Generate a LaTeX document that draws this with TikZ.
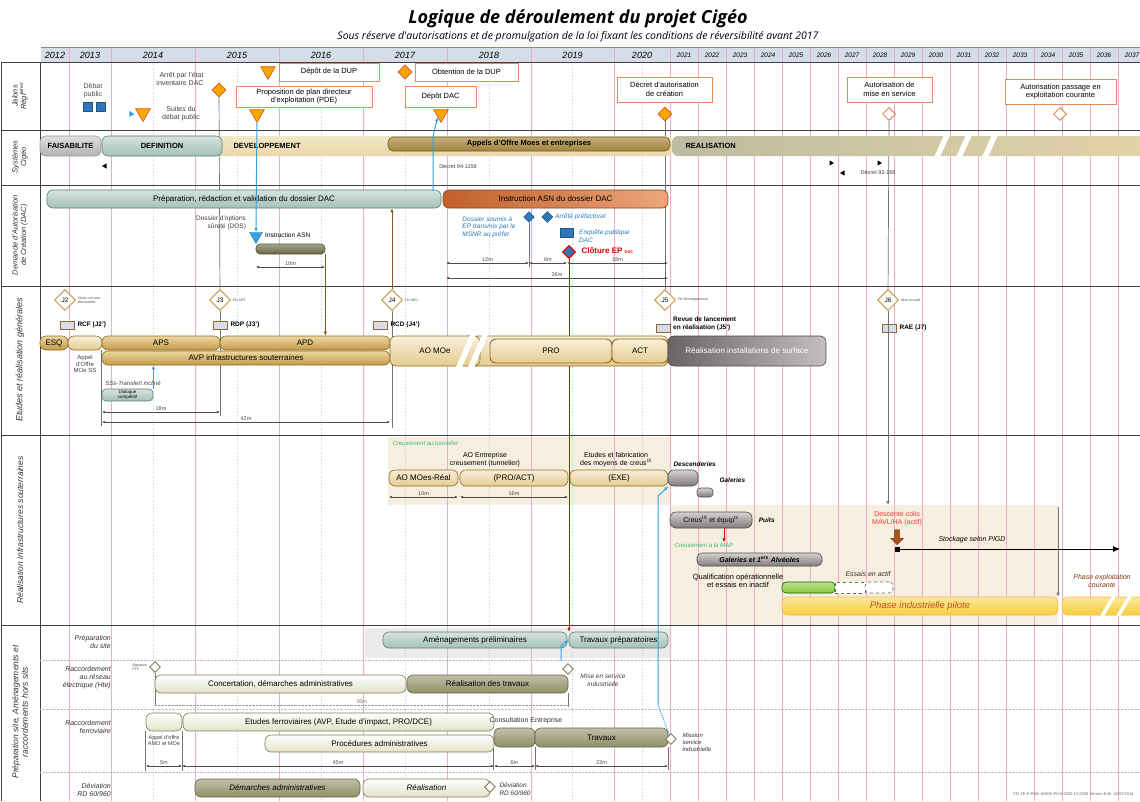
\documentclass[tikz,border=0pt]{standalone}
\usepackage{fontspec}
\setmainfont{Liberation Sans}
\newfontfamily\titlefont{Open Sans}
\usetikzlibrary{arrows.meta,shapes.geometric,shapes.arrows,positioning}
\pgfdeclarelayer{back}
\pgfdeclarelayer{lines}
\pgfsetlayers{back,lines,main}

\definecolor{gridpink}{HTML}{F2A9CB}
\definecolor{hdrblue}{HTML}{D5DEE8}
\definecolor{jorange}{HTML}{F7A800}
\definecolor{jred}{HTML}{E0501C}
\definecolor{jboxln}{HTML}{E28A60}
\definecolor{faisa}{HTML}{B2B2B2}
\definecolor{tealbar}{HTML}{A3C1B8}
\definecolor{tealdk}{HTML}{5E7F76}
\definecolor{devtan}{HTML}{EAD7A6}
\definecolor{appbrown}{HTML}{A2843A}
\definecolor{realkh}{HTML}{BDBBA0}
\definecolor{realtan}{HTML}{E2D3A8}
\definecolor{goldbar}{HTML}{C49A48}
\definecolor{goldlt}{HTML}{EDD7A2}
\definecolor{golddk}{HTML}{8C6A22}
\definecolor{asndk}{HTML}{C1602A}
\definecolor{asnlt}{HTML}{ECA57A}
\definecolor{olivedk}{HTML}{66683F}
\definecolor{epblue}{HTML}{2E78B8}
\definecolor{arrowblue}{HTML}{35A2E0}
\definecolor{greydk}{HTML}{6A6464}
\definecolor{greylt}{HTML}{C4BEBE}
\definecolor{tunbg}{HTML}{F6EFDF}
\definecolor{sitebg}{HTML}{EBEBEB}
\definecolor{khlt}{HTML}{E2E2C8}
\definecolor{khdk}{HTML}{7E7E58}
\definecolor{olbar}{HTML}{8E8E66}
\definecolor{pilote}{HTML}{F7CF3A}
\definecolor{pilotetx}{HTML}{C0501A}
\definecolor{msgold}{HTML}{C9A860}
\definecolor{greenbar}{HTML}{8ACB3E}
\definecolor{greentx}{HTML}{3CB878}
\definecolor{colisbrown}{HTML}{A8521C}

\newcommand\fsz[2]{\fontsize{#1}{#2}\selectfont}
% barre : style, nom, x1, x2, y1, y2, texte
\newcommand\barre[7]{\node[#1,minimum width={(#4-#3)*1pt},minimum height={(#6-#5)*1pt}] (#2) at ({(#3+#4)/2},{(#5+#6)/2}) {#7};}
% cote : x1, x2, y, texte, nom
\newcommand\cote[5]{\draw[dimarr] (#1,#3) -- (#2,#3) node[dimlbl] (#5) {#4};}

\begin{document}
\begin{tikzpicture}[x=1pt,y=-1pt,font=\fsz{7.5}{8.5},>={Latex[length=4pt,width=3.5pt]}]
        \tikzstyle{yearlbl}=[font=\itshape\fsz{9}{10},inner sep=0]
        \tikzstyle{yearsm}=[font=\itshape\fsz{6.5}{7},inner sep=0]
        \tikzstyle{gridline}=[gridpink,line width=0.7pt]
        \tikzstyle{rowline}=[black!75,line width=0.8pt]
        \tikzstyle{lbl}=[rotate=90,align=center,font=\itshape\fsz{7.5}{8.5},text=black!80]
        \tikzstyle{sublbl}=[anchor=east,align=right,font=\itshape\fsz{7}{8},text=black!80,inner sep=1pt]
        \tikzstyle{txt}=[align=center,inner sep=1pt,font=\fsz{7}{8}]
        \tikzstyle{tinytxt}=[align=left,font=\fsz{3.5}{4},text=black!70,inner sep=0.5pt]
        \tikzstyle{jbox}=[draw=jboxln,line width=1pt,fill=white,align=center,inner sep=1pt,font=\fsz{7.5}{8.5}]
        \tikzstyle{jdiam}=[diamond,draw=jred,fill=jorange,line width=0.6pt,inner sep=0,minimum size=14]
        \tikzstyle{jdiamo}=[diamond,draw=jboxln,fill=white,line width=1pt,inner sep=0,minimum size=13]
        \tikzstyle{jtri}=[regular polygon,regular polygon sides=3,shape border rotate=180,draw=jred,fill=jorange,line width=0.6pt,inner sep=0,minimum size=17]
        \tikzstyle{btri}=[regular polygon,regular polygon sides=3,shape border rotate=180,fill=arrowblue,draw=arrowblue!80!black,inner sep=0,minimum size=15]
        \tikzstyle{tipl}=[regular polygon,regular polygon sides=3,shape border rotate=90,fill=black,inner sep=0,minimum size=6]
        \tikzstyle{tipr}=[regular polygon,regular polygon sides=3,shape border rotate=270,fill=black,inner sep=0,minimum size=6]
        \tikzstyle{bltip}=[regular polygon,regular polygon sides=3,shape border rotate=270,fill=arrowblue,inner sep=0,minimum size=7]
        \tikzstyle{bsq}=[fill=epblue,draw=epblue!70!black,minimum width=9,minimum height=9,inner sep=0]
        \tikzstyle{bdiam}=[diamond,fill=epblue,draw=epblue!70!black,inner sep=0,minimum size=11]
        \tikzstyle{gdiam}=[diamond,draw=khdk,fill=white,line width=0.9pt,inner sep=0,minimum size=11]
        \tikzstyle{eptxt}=[align=left,font=\itshape\fsz{6.5}{7.5},text=epblue,inner sep=1pt]
        \tikzstyle{ms}=[diamond,draw=msgold,fill=white,line width=1.1pt,minimum size=21,inner sep=0,font=\fsz{6.5}{7}]
        \tikzstyle{revbox}=[draw=brown!80!black,fill=hdrblue,minimum width=14,minimum height=8,inner sep=0,line width=0.7pt]
        \tikzstyle{revlbl}=[align=left,font=\bfseries\fsz{6.5}{7.5},inner sep=1pt]
        \tikzstyle{bar}=[rounded corners=6pt,inner sep=1pt,line width=0.6pt,align=center,font=\fsz{8}{9}]
        \tikzstyle{sgold}=[bar,draw=golddk,top color=goldlt,bottom color=goldbar]
        \tikzstyle{sgoldp}=[bar,draw=golddk,top color=goldlt!40,bottom color=goldlt!80!goldbar]
        \tikzstyle{steal}=[bar,draw=tealdk,top color=tealbar!45,bottom color=tealbar]
        \tikzstyle{sgrey}=[bar,draw=black!70,left color=greydk,right color=greylt]
        \tikzstyle{sgreyc}=[bar,draw=black!70,top color=greylt!70,bottom color=greydk!85]
        \tikzstyle{skhaki}=[bar,draw=khdk,top color=white,bottom color=khlt]
        \tikzstyle{solive}=[bar,draw=khdk!80!black,top color=olbar!55,bottom color=olbar]
        \tikzstyle{greyln}=[black!55,line width=0.7pt]
        \tikzstyle{brownln}=[brown!70!black,line width=0.8pt]
        \tikzstyle{blueln}=[arrowblue,line width=1pt]
        \tikzstyle{redln}=[red!85!black,line width=0.9pt]
        \tikzstyle{dimarr}=[{Latex[length=3pt,width=2.5pt]}-{Latex[length=3pt,width=2.5pt]},black!70,line width=0.5pt]
        \tikzstyle{dimlbl}=[midway,above,font=\fsz{5.5}{6},inner sep=0.8pt]

        \useasboundingbox (0,0) rectangle (1140,801);

        \begin{pgfonlayer}{back}
        \fill[white] (0,0) rectangle (1140,801);
        \fill[hdrblue] (41,47) rectangle (1140,62);
        \fill[tunbg] (388,437) rectangle (670,505);
        \fill[tunbg] (670,505) rectangle (1058,625);
        \fill[sitebg] (365,628) rectangle (670,658);
        \foreach \xx in {153,237,321,405,489,572,642}
                \draw[gray!35,dotted] (\xx,62) -- (\xx,801);
        \foreach \xx in {69,111,195,279,363,447,531,614,670,698,726,...,1118}
                \draw[gridline] (\xx,47) -- (\xx,801);
        \draw[red!65,line width=0.8pt] (41,47) -- (1140,47);
        \foreach \yy in {62,130,185,286,435,625}
                \draw[rowline] (1,\yy) -- (1140,\yy);
        \draw[rowline] (1,62) -- (1,801);
        \draw[rowline] (40,62) -- (40,801);
        \foreach \yy in {660,709,772}
                \draw[gray!50,densely dotted] (40,\yy) -- (1140,\yy);
        \end{pgfonlayer}

        % titre et annees
        \node[font=\titlefont\bfseries\itshape\fsz{18}{20}] (titre) at (578,19) {Logique de déroulement du projet Cigéo};
        \node[font=\titlefont\itshape\fsz{10.5}{12}] (soustitre) at (578,37) {Sous réserve d'autorisations et de promulgation de la loi fixant les conditions de réversibilité avant 2017};
        \foreach \a/\b/\yr in {41/69/2012,69/111/2013,111/195/2014,195/279/2015,279/363/2016,363/447/2017,447/531/2018,531/614/2019,614/670/2020}
                \node[yearlbl] (y\yr) at ({(\a+\b)/2},55) {\yr};
        \foreach \yr [count=\i from 0] in {2021,...,2037}
                \node[yearsm] (y\yr) at ({684+28*\i},55) {\yr};

        \node[lbl] (ljal) at (20,96) {Jalons\\Régl\textsuperscript{aires}};
        \node[lbl] (lsys) at (20,157) {Systèmes\\Cigéo};
        \node[lbl,font=\itshape\fsz{7.5}{8.5}] (ldac) at (20,235) {Demande d'Autorisation\\de Création (DAC)};
        \node[lbl,font=\itshape\fsz{9}{10}] (letu) at (20,360) {Etudes et réalisation générales};
        \node[lbl,font=\itshape\fsz{8.5}{9.5}] (linf) at (20,530) {Réalisation infrastructures souterraines};
        \node[lbl,font=\itshape\fsz{8.5}{9.5}] (lprep) at (20,712) {Préparation site, Aménagements et\\raccordements hors sits};

        % jalons reglementaires
        \node[txt,text=black!70] (debat) at (93,91) {Débat\\public};
        \node[bsq] (dp1) at (88,107) {};
        \node[bsq] (dp2) [right=3pt of dp1] {};
        \node[txt,align=right,text=black!75] (arret) at (180,79) {Arrêt par l'état\\inventaire DAC};
        \node[jdiam] (arretd) at (219,90) {};
        \node[bltip] (suitesb) at (131,114) {};
        \node[jtri] (suitest) at (143,113) {};
        \node[txt,text=black!75] (suites) at (181,114) {Suites du\\débat public};
        \node[jtri] (duptri) at (268,71) {};
        \barre{jbox}{dup}{279}{379}{63}{81}{Dépôt de la DUP}
        \barre{jbox}{pde}{236}{372}{86}{107}{Proposition de plan directeur\\d'exploitation (PDE)}
        \node[jtri] (pdetri) at (257,114) {};
        \node[jdiam] (obtd) at (405,72) {};
        \barre{jbox}{obt}{415}{518}{63}{81}{Obtention de la DUP}
        \barre{jbox}{depdac}{405}{476}{86}{107}{Dépôt DAC}
        \node[jtri] (dactri) at (441,114) {};
        \barre{jbox}{decret}{617}{712}{77}{102}{Décret d'autorisation\\de création}
        \node[jdiam] (decretd) at (665,114) {};
        \barre{jbox}{mes}{847}{932}{77}{102}{Autorisation de\\mise en service}
        \node[jdiamo] (mesd) at (889,114) {};
        \barre{jbox}{expl}{1005}{1116}{79}{104}{Autorisation passage en\\exploitation courante}
        \node[jdiamo] (expld) at (1060,114) {};

        % systemes Cigeo
        \barre{bar,draw=black!40,top color=faisa!40,bottom color=faisa,font=\bfseries\fsz{7.5}{8.5}}{faisab}{40}{101}{136}{156}{FAISABILITE}
        \barre{bar,draw=none,top color=devtan!60,bottom color=devtan}{devel}{216}{672}{136}{156}{}
        \barre{steal,font=\bfseries\fsz{7.5}{8.5}}{defin}{102}{222}{136}{156}{DEFINITION}
        \node[font=\bfseries\fsz{7.5}{8.5},anchor=west] (develt) at (230,146) {DEVELOPPEMENT};
        \barre{bar,rounded corners=5pt,draw=appbrown!70!black,top color=appbrown!65,bottom color=appbrown,font=\bfseries\fsz{7.5}{8.5}}{appels}{388}{670}{137}{151}{Appels d'Offre Moes et entreprises}
        \barre{bar,draw=none,left color=realkh,right color=realtan}{realis}{672}{1150}{136}{156}{}
        \node[font=\bfseries\fsz{7.5}{8.5},anchor=west] (realist) at (682,146) {REALISATION};
        \foreach \s in {934,956,982}
                \fill[white] (\s,157) -- (\s+10,135) -- (\s+16,135) -- (\s+6,157) -- cycle;
        \node[tipl] (d94a) at (105,166) {};
        \node[font=\fsz{5.5}{6},text=black!75] (d94) at (458,166) {Décret 94-1159};
        \node[tipr] (d92a) at (831,163) {};
        \node[tipr] (d92b) at (879,163) {};
        \node[tipl] (d92c) at (843,173) {};
        \node[font=\fsz{5.5}{6},text=black!75] (d92) at (878,172) {Décret 92-158};

        % demande d'autorisation de creation
        \barre{steal}{prepdac}{47}{441}{190}{208}{Préparation, rédaction et validation du dossier DAC}
        \barre{bar,draw=asndk!70!black,left color=asndk,right color=asnlt}{instasn}{443}{668}{190}{208}{Instruction ASN du dossier DAC}
        \node[txt,align=right,font=\fsz{6.5}{7.5},text=black!75] (dos) at (221,223) {Dossier d'options\\sûreté (DOS)};
        \node[btri] (asntri) at (256,236) {};
        \node[txt,font=\fsz{6.5}{7.5},anchor=west] (asnt) at (264,235) {Instruction ASN};
        \barre{bar,rounded corners=4pt,draw=olivedk!80!black,top color=olivedk!60,bottom color=olivedk}{asnbar}{256}{325}{244}{254}{}
        \cote{256}{325}{267}{10m}{dm10}
        \node[eptxt] (soumis) at (489,227) {Dossier soumis à\\EP transmis par le\\MSNR au préfet};
        \node[bdiam] (soumisd) at (529,217) {};
        \node[bdiam] (arreted) [right=7pt of soumisd] {};
        \node[eptxt] (arrete) [right=1pt of arreted] {Arrêté préfectoral};
        \node[bsq,minimum width=13] (epq) at (567,233) {};
        \node[eptxt,anchor=west] (enquete) at (578,236) {Enquête publique\\DAC};
        \node[bdiam,draw=red!85!black,line width=1.2pt,minimum size=13] (cloture) at (569,252) {};
        \node[anchor=west,text=red!85!black,font=\bfseries\fsz{8}{9}] (cloturet) at (578,251) {Clôture EP \fsz{4}{5}DAC};
        \cote{446}{529}{263}{12m}{dm12}
        \cote{529}{567}{263}{6m}{dm6a}
        \cote{567}{668}{263}{18m}{dm18a}
        \cote{446}{668}{278}{36m}{dm36a}

        % etudes et realisation generales
        \node[ms] (j2) at (65,300) {J2};
        \node[tinytxt] (j2t) [right=1pt of j2] {Choix concept\\d'ensemble};
        \node[ms] (j3) at (220,300) {J3};
        \node[tinytxt] (j3t) [right=1pt of j3] {Fin APS};
        \node[ms] (j4) at (392,300) {J4};
        \node[tinytxt] (j4t) [right=1pt of j4] {Fin APD};
        \node[ms] (j5) at (665,300) {J5};
        \node[tinytxt] (j5t) [right=1pt of j5] {Fin Développement};
        \node[ms] (j6) at (888,300) {J6};
        \node[tinytxt] (j6t) [right=1pt of j6] {Mise en actif};
        \node[revbox] (rcf) at (67,325) {};
        \node[revlbl] (rcft) [right=2pt of rcf] {RCF (J2')};
        \node[revbox] (rdp) at (220,325) {};
        \node[revlbl] (rdpt) [right=2pt of rdp] {RDP (J3')};
        \node[revbox] (rcd) at (380,325) {};
        \node[revlbl] (rcdt) [right=2pt of rcd] {RCD (J4')};
        \node[revbox] (rlr) at (663,328) {};
        \node[revlbl,anchor=south west] (rlrt) at (672,332) {Revue de lancement\\en réalisation (J5')};
        \node[revbox] (rae) at (889,328) {};
        \node[revlbl] (raet) [right=2pt of rae] {RAE (J7)};

        \barre{sgold}{esq}{40}{68}{336}{350}{ESQ}
        \barre{sgoldp}{aoss}{68}{102}{336}{350}{}
        \node[txt,font=\fsz{6}{6.5},text=black!75] (aosst) at (85,364) {Appel\\d'Offre\\MOe SS};
        \barre{sgold}{aps}{102}{220}{336}{350}{APS}
        \barre{sgold}{apd}{220}{390}{336}{350}{APD}
        \barre{sgold}{avp}{102}{390}{351}{365}{AVP infrastructures souterraines}
        \barre{sgoldp}{proact}{462}{668}{336}{366}{}
        \barre{sgoldp}{aomoe}{390}{480}{336}{366}{AO MOe}
        \foreach \s in {456,468}
                \fill[white] (\s,367) -- (\s+14,335) -- (\s+20,335) -- (\s+6,367) -- cycle;
        \barre{sgoldp,line width=0.9pt}{pro}{490}{612}{339}{363}{PRO}
        \barre{sgoldp,line width=0.9pt}{act}{612}{668}{339}{363}{ACT}
        \barre{sgrey,text=white}{rsurf}{668}{826}{336}{366}{Réalisation installations de surface}
        \node[txt,font=\itshape\fsz{6}{7},text=black!75] (sss) at (133,383) {SSs-Transfert incliné};
        \barre{steal,rounded corners=4pt,font=\fsz{4.5}{5}}{dialogue}{102}{153}{389}{401}{Dialogue\\compétitif}
        \cote{102}{220}{412}{18m}{dm18b}
        \cote{102}{390}{422}{42m}{dm42}

        % realisation infrastructures souterraines
        \node[anchor=west,font=\itshape\fsz{6}{7},text=greentx] (creutun) at (389,443) {Creusement au tunnelier};
        \node[txt] (aoent) at (485,460) {AO Entreprise\\creusement (tunnelier)};
        \node[txt] (etfab) at (616,460) {Etudes et fabrication\\des moyens de creus\textsuperscript{IX}};
        \barre{sgoldp}{aomoes}{389}{458}{470}{486}{AO MOes-Réal}
        \barre{sgoldp}{proact2}{460}{568}{470}{486}{(PRO/ACT)}
        \barre{sgoldp}{exe}{570}{668}{470}{486}{(EXE)}
        \cote{389}{458}{497}{10m}{dm10b}
        \cote{460}{568}{497}{16m}{dm16}
        \barre{sgreyc}{descend}{668}{698}{470}{486}{}
        \node[anchor=south west,font=\bfseries\itshape\fsz{6.5}{7.5}] (descendt) at (670,470) {Descenderies};
        \barre{sgreyc,rounded corners=3.5pt}{galer}{697}{713}{488}{497}{}
        \node[anchor=west,font=\bfseries\itshape\fsz{6.5}{7.5}] (galert) at (716,480) {Galeries};
        \barre{sgreyc,font=\fsz{7}{8}}{creus}{670}{752}{512}{528}{Creus\textsuperscript{IX} et équip\textsuperscript{ts}}
        \node[font=\bfseries\itshape\fsz{6.5}{7.5}] (puits) [right=3pt of creus] {Puits};
        \node[anchor=west,font=\itshape\fsz{6}{7},text=greentx] (creumap) at (671,545) {Creusement à la MAP};
        \barre{sgreyc,rounded corners=5pt,font=\bfseries\itshape\fsz{7}{8}}{galalv}{697}{822}{553}{566}{Galeries et 1\textsuperscript{ers} Alvéoles}
        \node[txt,font=\fsz{7.5}{8.5}] (qualif) at (738,581) {Qualification opérationnelle\\et essais en inactif};
        \barre{bar,rounded corners=4pt,draw=green!40!black,top color=greenbar!60,bottom color=greenbar}{inactif}{782}{835}{582}{593}{}
        \barre{bar,rounded corners=0pt,draw=black!60,dashed,fill=white}{actif1}{835}{865}{582}{593}{}
        \barre{bar,rounded corners=4pt,draw=black!60,dashed,fill=white}{actif2}{865}{893}{582}{593}{}
        \node[anchor=west,font=\itshape\fsz{7}{8},text=black!80] (essact) at (842,574) {Essais en actif};
        \barre{bar,draw=orange!60,top color=pilote!50,bottom color=pilote,font=\itshape\fsz{9.5}{10.5},text=pilotetx}{pilote}{782}{1058}{597}{615}{Phase industrielle pilote}
        \barre{bar,draw=orange!60,top color=pilote!50,bottom color=pilote}{courante}{1062}{1150}{597}{615}{}
        \foreach \s in {1100,1116}
                \fill[white] (\s,616) -- (\s+12,596) -- (\s+16,596) -- (\s+4,616) -- cycle;
        \node[txt,font=\itshape\fsz{7}{8},text=pilotetx!70!black] (court) at (1102,581) {Phase exploitation\\courante};
        \node[txt,text=red!80] (descol) at (897,519) {Descente colis\\MAVL/HA (actif)};
        \node[single arrow,shape border rotate=270,fill=colisbrown,draw=colisbrown!70!black,minimum height=15,minimum width=13,single arrow head extend=2pt,inner sep=1pt] (colis) at (897,536) {};
        \node[fill=black,minimum size=5,inner sep=0] (stock) at (897,549) {};
        \coordinate (stockend) at (1120,549);
        \node[anchor=south,font=\itshape\fsz{7}{8}] (stockt) at (972,546) {Stockage selon PIGD};
        \coordinate (expltop) at (1058,507);

        % preparation site et raccordements
        \node[sublbl] (lsite) at (112,642) {Préparation\\du site};
        \node[sublbl] (lhte) at (112,678) {Raccordement\\au réseau\\électrique (Hte)};
        \node[sublbl] (lfer) at (112,727) {Raccordement\\ferroviaire};
        \node[sublbl] (ldev) at (112,790) {Déviation\\RD 60/960};
        \barre{steal}{amenag}{383}{567}{632}{648}{Aménagements préliminaires}
        \barre{steal}{travprep}{569}{668}{632}{648}{Travaux préparatoires}
        \node[gdiam] (hte) at (155,667) {};
        \node[tinytxt] (htet) [left=1pt of hte] {Signature\\PTF};
        \barre{skhaki}{concert}{155}{406}{675}{693}{Concertation, démarches administratives}
        \barre{solive}{realtrav}{407}{568}{675}{693}{Réalisation des travaux}
        \node[gdiam] (mesind) at (568,669) {};
        \node[txt,font=\itshape\fsz{6.5}{7.5},text=black!75] (mesindt) at (603,680) {Mise en service\\industrielle};
        \barre{skhaki}{aoamo}{146}{182}{713}{731}{}
        \node[txt,font=\fsz{5.5}{6},text=black!75] (aoamot) at (164,741) {Appel d'offre\\AMO et MOe};
        \barre{skhaki}{etfer}{183}{494}{713}{731}{Etudes ferroviaires (AVP, Etude d'impact, PRO/DCE)}
        \barre{skhaki}{procadm}{265}{494}{735}{752}{Procédures administratives}
        \node[txt,font=\fsz{7}{8},text=black!80] (consult) at (526,721) {Consultation Entreprise};
        \barre{solive}{consbar}{494}{535}{728}{747}{}
        \barre{solive}{travaux}{535}{668}{728}{747}{Travaux}
        \node[gdiam] (mission) at (671,739) {};
        \node[anchor=west,align=left,font=\itshape\fsz{6}{7},text=black!80] (missiont) at (679,742) {Mission\\service\\industrielle};
        \coordinate (blc) at (658,705);
        \cote{146}{182}{766}{5m}{dm5}
        \cote{182}{494}{766}{45m}{dm45}
        \cote{494}{535}{766}{6m}{dm6b}
        \cote{535}{668}{766}{23m}{dm23}
        \barre{solive,font=\itshape\fsz{8}{9}}{demadm}{195}{360}{779}{797}{Démarches administratives}
        \barre{skhaki,font=\itshape\fsz{8}{9}}{realdev}{363}{490}{779}{797}{Réalisation}
        \node[gdiam] (devd) at (490,787) {};
        \node[anchor=west,align=left,font=\itshape\fsz{6.5}{7.5},text=black!80] (devt) at (496,789) {Déviation\\RD 60/960};
        \node[anchor=south east,font=\fsz{4}{5},text=black!60] (refdoc) at (1137,799) {CG-TE-F-PNG-AMOA-PGS-0000-12-0058 Version Edit. 16/07/2014};
        \coordinate (dacjct) at (433,191);

        \begin{pgfonlayer}{lines}
        \draw[greyln] (arretd) -- (j3);
        \draw[greyln] (j3) -- (220,416);
        \draw[brownln,->] (j4) -- (j4 |- prepdac.south);
        \draw[greyln] (j4) -- (392,428);
        \draw[greyln] (decretd) -- (j5);
        \draw[greyln] (mesd) -- (j6);
        \draw[greyln] (soumisd) -- (529,267);
        \draw[redln,->] (cloture) -- (cloture |- travprep.north);
        \draw[greyln] (aps.south west) -- ++(0,76);
        \draw[greyln] (hte) -- (hte |- 0,706);
        \draw[greyln] (realtrav.south east) -- ++(0,14);
        \draw[black!40,densely dotted] (hte |- 0,705) -- (realtrav.south east |- 0,705) node[dimlbl,text=black!50] (dm36b) {36m};
        \draw[greyln] (aoamo.south west) -- ++(0,40);
        \draw[greyln] (aoamo.south east) -- ++(0,40);
        \draw[greyln] (consbar.south west) -- ++(0,23);
        \draw[greyln] (consbar.south east) -- ++(0,23);
        \draw[greyln] (travaux.south east) -- ++(0,23);
        \end{pgfonlayer}

        \draw[greyln,->] (j6) -- (888,505);
        \draw[blueln,->] (pdetri) -- (asntri.north);
        \draw[blueln,->,rounded corners=3pt] (dacjct) -- (433,136) -- (dactri.south west);
        \draw[brownln,->] (asnbar.south east) -- (asnbar.south east |- apd.north);
        \draw[blueln,->] (dialogue.north east) -- (dialogue.north east |- avp.south);
        \draw[redln,->] (creus.south) ++(13,0) -- ++(0,14);
        \draw[greyln,->] (expltop) -- (expltop |- pilote.north);
        \draw[black,line width=0.8pt,-{Latex[length=7pt,width=6pt]}] (stock) -- (stockend);
        \draw[blueln,->] (561,661) -- (561,646) -- (travprep.west);
        \draw[blueln,densely dotted] (mission) -- (blc);
        \draw[blueln,->] (blc) -- (658,496) -- (exe.south east);
\end{tikzpicture}
\end{document}
